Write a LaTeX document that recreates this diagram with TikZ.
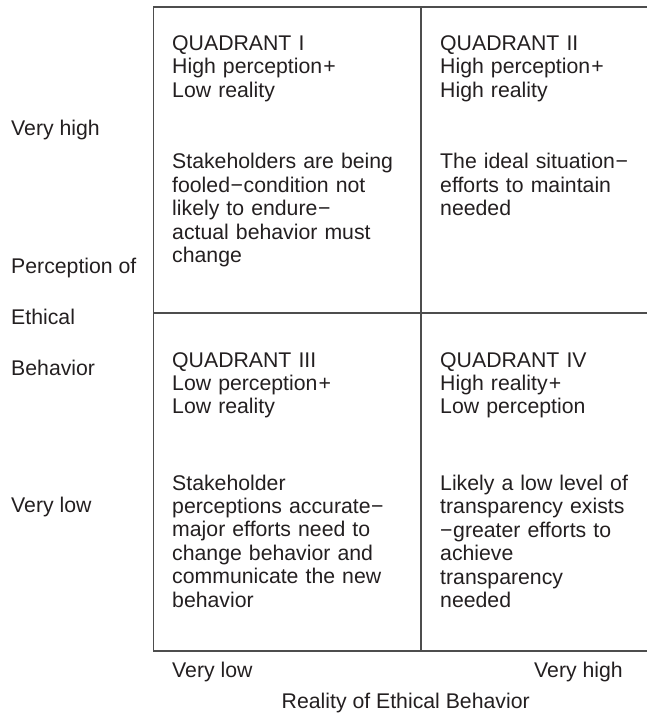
\documentclass[tikz,border=0pt]{standalone}
\usepackage{fontspec}
\setmainfont{Liberation Sans}
\definecolor{gridgray}{HTML}{4D4D4D}
\definecolor{ink}{HTML}{231F20}
\newcommand{\pl}{\kern1.2pt+}
\newcommand{\mn}{\kern0.6pt−\kern0.6pt}
\begin{document}
\begin{tikzpicture}[x=1pt,y=-1pt,
  gridline/.style={draw=gridgray, line width=1.4pt},
  txt/.style={inner sep=0pt, text=ink, font=\fontsize{21.25}{23.4}\selectfont},
  cell/.style={txt, anchor=base west, text width=260pt, align=left}]
\useasboundingbox (0,0) rectangle (647,714);

% matrix frame (open on the right)
\coordinate (tl) at (153.5,7);
\coordinate (tr) at (660,7);
\coordinate (ml) at (153.5,313);
\coordinate (mr) at (660,313);
\coordinate (bl) at (153.5,651);
\coordinate (br) at (660,651);
\coordinate (tm) at (421,7);
\coordinate (bm) at (421,651);
\draw[gridline] (tr) -- (tl) -- (bl) -- (br);
\draw[gridline] (ml) -- (mr);
\draw[gridline] (tm) -- (bm);

% quadrant I
\node[cell] (q1h) at (172,50.5) {QUADRANT I\\High perception\pl\\Low reality};
\node[cell] (q1b) at (172,169) {Stakeholders are being\\fooled\mn condition not\\likely to endure\mn\\actual behavior must\\change};
% quadrant II
\node[cell] (q2h) at (440,50.5) {QUADRANT II\\High perception\pl\\High reality};
\node[cell] (q2b) at (440,169) {The ideal situation\mn\\efforts to maintain\\needed};
% quadrant III
\node[cell] (q3h) at (172,367) {QUADRANT III\\Low perception\pl\\Low reality};
\node[cell] (q3b) at (172,490) {Stakeholder\\perceptions accurate\mn\\major efforts need to\\change behavior and\\communicate the new\\behavior};
% quadrant IV
\node[cell] (q4h) at (440,367) {QUADRANT IV\\High reality\pl\\Low perception};
\node[cell] (q4b) at (440,490) {Likely a low level of\\transparency exists\\\mn greater efforts to\\achieve\\transparency\\needed};

% vertical axis
\node[txt, anchor=base west] (yhi) at (11,136) {Very high};
\node[txt, anchor=base west] (yt1) at (11,273) {Perception of};
\node[txt, anchor=base west] (yt2) at (11,324) {Ethical};
\node[txt, anchor=base west] (yt3) at (11,375) {Behavior};
\node[txt, anchor=base west] (ylo) at (11,512) {Very low};

% horizontal axis
\node[txt, anchor=base west] (xlo) at (172,677) {Very low};
\node[txt, anchor=base east] (xhi) at (623,677) {Very high};
\node[txt, anchor=base] (xt) at (405.7,708) {Reality of Ethical Behavior};
\end{tikzpicture}
\end{document}
